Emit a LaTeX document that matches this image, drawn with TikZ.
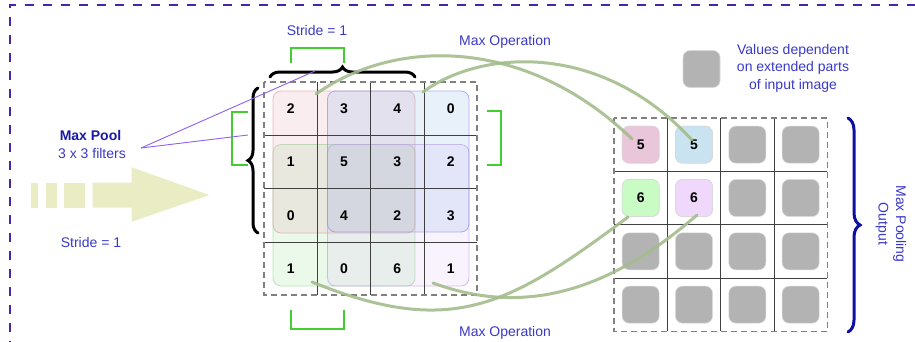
\documentclass[tikz,border=0pt]{standalone}
\usepackage{fontspec}
\setmainfont{Liberation Sans}
\usetikzlibrary{decorations.pathreplacing}

\definecolor{labelblue}{HTML}{3A3AC8}
\definecolor{poolblue}{HTML}{1A1AA8}
\definecolor{framepurple}{HTML}{4A22B0}
\definecolor{navybrace}{HTML}{1010A0}
\definecolor{bracketgreen}{HTML}{44CC33}
\definecolor{curvegreen}{HTML}{A4BC8C}
\definecolor{pointerpurple}{HTML}{9060F0}
\definecolor{arrowfill}{HTML}{EAECC4}
\definecolor{redfill}{HTML}{E8A0B0}\definecolor{redline}{HTML}{E0A0A8}
\definecolor{bluefill}{HTML}{80B0E0}\definecolor{blueline}{HTML}{9090F0}
\definecolor{greenfill}{HTML}{90E090}\definecolor{greenline}{HTML}{A0D8A0}
\definecolor{purplefill}{HTML}{D8A8F8}\definecolor{purpleline}{HTML}{C8A0F0}
\definecolor{outpink}{HTML}{E9C6DA}
\definecolor{outblue}{HTML}{C9E3F0}
\definecolor{outgreen}{HTML}{C8FCC4}
\definecolor{outpurple}{HTML}{F0D8FC}
\definecolor{outgray}{HTML}{B3B3B3}

\begin{document}
\begin{tikzpicture}[x=1pt,y=-1pt,
  lbl/.style={font=\fontsize{14}{17.5}\selectfont, text=labelblue, inner sep=0pt, align=center},
  digit/.style={font=\fontsize{14}{16}\selectfont\bfseries, inner sep=0pt},
  outsq/.style={minimum size=37pt, rounded corners=7pt, inner sep=0pt, draw=white!85!black, line width=0.6pt},
  window/.style={rounded corners=8pt, line width=0.8pt, fill opacity=0.18, draw opacity=0.7},
  gridframe/.style={draw=black!50, dash pattern=on 6pt off 4pt, line width=1.1pt},
  gridline/.style={draw=black!75, line width=0.9pt},
  bracket/.style={draw=bracketgreen, line width=2pt},
  maxcurve/.style={draw=curvegreen, line width=3pt, opacity=0.9, line cap=round},
  bigbrace/.style={decorate, decoration={brace, amplitude=10pt}, line width=3pt, line cap=round},
  pointer/.style={draw=pointerpurple, line width=0.9pt}
]
\useasboundingbox (0,0) rectangle (915,341);
\fill[white] (0,0) rectangle (915,341);
\clip (0,0) rectangle (915,341);

% outer dashed frame
\draw[framepurple, line width=2.5pt, dash pattern=on 9pt off 9pt] (10,350) -- (10,5) -- (930,5);

% sliding arrow
\fill[arrowfill] (30.7,182.7) rectangle (37.7,207.7);
\fill[arrowfill] (46,182.7) rectangle (57.3,207.7);
\fill[arrowfill] (64.3,182.7) rectangle (85,207.7);
\fill[arrowfill] (92.7,182.7) -- (131.7,182.7) -- (131.7,167.3) -- (209.3,195)
  -- (131.7,221.7) -- (131.7,207.7) -- (92.7,207.7) -- cycle;

% labels on the left
\node[lbl, text=poolblue, font=\fontsize{14}{17}\selectfont\bfseries] (maxpool) at (90.5,135) {Max Pool};
\node[lbl] (filters) at (92,153) {3 x 3 filters};
\node[lbl] (strideleft) at (91,242) {Stride = 1};
\node[lbl] (stridetop) at (317,30) {Stride = 1};
\node[lbl] (opstop) at (505,42) {Max Operation};
\node[lbl] (opsbottom) at (505,333) {Max Operation};

% 3x3 pooling windows over the input
\filldraw[window, fill=greenfill, draw=greenline] (273,144.5) rectangle (415,286);
\filldraw[window, fill=purplefill, draw=purpleline, fill opacity=0.13] (327.5,144.5) rectangle (469,286);
\filldraw[window, fill=redfill, draw=redline] (273,91) rectangle (415,233);
\filldraw[window, fill=bluefill, draw=blueline] (327.5,91) rectangle (469,232);

% input grid
\foreach \x in {317.3,370.7,424} \draw[gridline] (\x,82) -- (\x,295);
\foreach \y in {135.3,188.7,242} \draw[gridline] (264,\y) -- (477,\y);
\draw[gridframe] (264,82) rectangle (477,295);

% input values
\foreach \r/\row in {0/{2,3,4,0},1/{1,5,3,2},2/{0,4,2,3},3/{1,0,6,1}} {
  \foreach \v [count=\c from 0] in \row {
    \node[digit] (in-\r-\c) at ({264+(\c+0.5)*53.33},{82+(\r+0.5)*53.33}) {\v};
  }
}

% braces around the window
\draw[bigbrace] (270,77) -- (415,77);
\draw[bigbrace] (258,233) -- (258,88);

% stride brackets
\draw[bracket] (291,63) -- (291,48) -- (344,48) -- (344,63);
\draw[bracket] (291,310) -- (291,329) -- (344,329) -- (344,310);
\draw[bracket] (248,112) -- (232,112) -- (232,165) -- (248,165);
\draw[bracket] (487,111) -- (501,111) -- (501,165) -- (487,165);

% pointers from the Max Pool label
\coordinate (fl) at (141,148);
\coordinate (bracetop) at (315,71);
\coordinate (braceleft) at (248,135);
\draw[pointer] (fl) -- (bracetop);
\draw[pointer] (fl) -- (braceleft);

% output grid
\foreach \x in {667.3,720.7,774} \draw[gridline] (\x,118) -- (\x,331.3);
\foreach \y in {171.3,224.7,278} \draw[gridline] (614,\y) -- (827.3,\y);
\draw[gridframe] (614,118) rectangle (827.3,331.3);

\foreach \r in {0,...,3} {
  \foreach \c in {0,...,3} {
    \node[outsq, fill=outgray] (out-\r-\c) at ({614+(\c+0.5)*53.33},{118+(\r+0.5)*53.33}) {};
  }
}
\node[outsq, fill=outpink, digit] (o11) at (out-0-0) {5};
\node[outsq, fill=outblue, digit] (o12) at (out-0-1) {5};
\node[outsq, fill=outgreen, digit] (o21) at (out-1-0) {6};
\node[outsq, fill=outpurple, digit] (o22) at (out-1-1) {6};

% legend
\node[outsq, fill=outgray] (legend) at (701.5,69) {};
\node[lbl] (legendtext) at (793,68) {Values dependent\\on extended parts\\of input image};

% output brace and caption
\draw[bigbrace, navybrace, decoration={amplitude=12pt}] (848,118) -- (848,332);
\node[lbl, rotate=-90] (outcaption) at (891,224) {Max Pooling\\Output};

% max operation links
\coordinate (a1) at (316,94);   \coordinate (a2) at (632,139);
\coordinate (b1) at (423,92);   \coordinate (b2) at (692,140);
\coordinate (c1) at (312,282);  \coordinate (c2) at (628,217);
\coordinate (d1) at (433,283);  \coordinate (d2) at (697,215);
\draw[maxcurve] (a1) .. controls (400,35) and (530,40) .. (a2);
\draw[maxcurve] (b1) .. controls (480,50) and (600,40) .. (b2);
\draw[maxcurve] (c1) .. controls (451,338) and (508,307) .. (c2);
\draw[maxcurve] (d1) .. controls (520,315) and (605,295) .. (d2);
\end{tikzpicture}
\end{document}
